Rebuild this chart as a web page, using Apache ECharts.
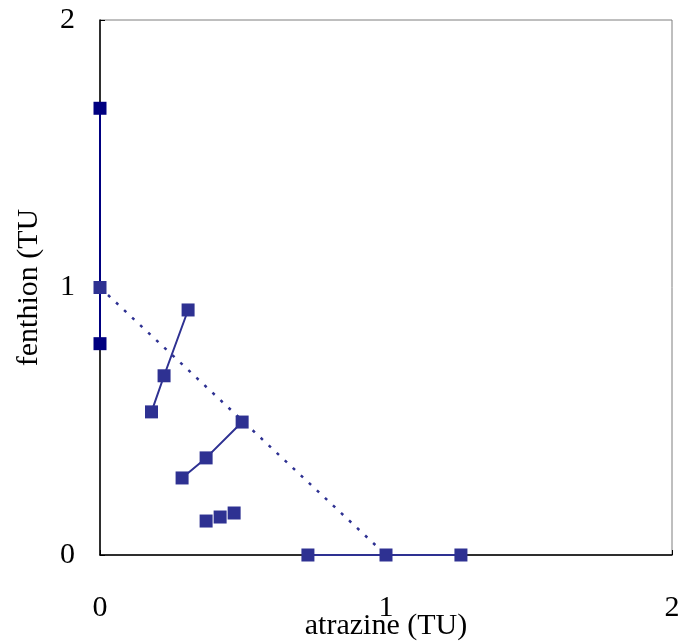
<!DOCTYPE html>
<html><head><meta charset="utf-8">
<script src="https://cdn.jsdelivr.net/npm/echarts@6/dist/echarts.min.js"></script>
<style>html,body{margin:0;padding:0;background:#fff}#c{width:680px;height:644px}</style>
</head><body><div id="c"></div>
<script>
const xTicks = [0, 1, 2];
const yTicks = [0, 1, 2];
const vertical = [[0, 0.79], [0, 1.67]];
const verticalMid = [[0, 1.0]];
const isobole = [[0, 1.0], [1.0, 0]];
const seriesC = [[0.18, 0.535], [0.224, 0.67], [0.308, 0.916]];
const seriesD = [[0.287, 0.288], [0.371, 0.363], [0.497, 0.497]];
const seriesE = [[0.371, 0.127], [0.42, 0.142], [0.469, 0.157]];
const seriesF = [[0.727, 0], [1.0, 0], [1.262, 0]];

const dark = '#000080';
const blue = '#2E3192';
const font = '"Liberation Serif", "DejaVu Serif", serif';

const chart = echarts.init(document.getElementById('c'), null, {renderer: 'canvas'});
function line(data, color, sym, showLine, type, width) {
  return {
    type: 'line', data: data, symbol: sym ? 'rect' : 'none', symbolSize: 13,
    lineStyle: {color: color, width: width || 2, type: type || 'solid', opacity: showLine ? 1 : 0},
    itemStyle: {color: color}, animation: false, z: 3
  };
}
chart.setOption({
  animation: false,
  grid: {left: 100, right: 8, top: 20, bottom: 89, containLabel: false, outerBoundsMode: 'none',
         show: true, borderColor: '#7f7f7f', borderWidth: 1},
  xAxis: {
    type: 'value', min: xTicks[0], max: xTicks[xTicks.length - 1], interval: 1,
    name: 'atrazine (TU)', nameLocation: 'middle', nameGap: 56, nameMoveOverlap: false,
    nameTextStyle: {fontFamily: font, fontSize: 30, color: '#000'},
    axisLine: {show: true, lineStyle: {color: '#000', width: 1.5}},
    axisTick: {show: true, inside: true, length: 5, lineStyle: {color: '#000'}},
    axisLabel: {fontFamily: font, fontSize: 30, color: '#000', margin: 38},
    splitLine: {show: false}
  },
  yAxis: {
    type: 'value', min: yTicks[0], max: yTicks[yTicks.length - 1], interval: 1,
    name: 'fenthion (TU', nameLocation: 'middle', nameGap: 56, nameMoveOverlap: false,
    nameTextStyle: {fontFamily: font, fontSize: 30, color: '#000'},
    axisLine: {show: true, lineStyle: {color: '#000', width: 1.5}},
    axisTick: {show: true, inside: true, length: 5, lineStyle: {color: '#000'}},
    axisLabel: {fontFamily: font, fontSize: 30, color: '#000', margin: 25},
    splitLine: {show: false}
  },
  series: [
    line(vertical, dark, true, true),
    line(isobole, blue, false, true, [3, 8], 2.5),
    line(verticalMid, blue, true, false),
    line(seriesC, blue, true, true),
    line(seriesD, blue, true, true),
    line(seriesE, blue, true, false),
    line(seriesF, blue, true, true)
  ]
});
</script></body></html>
